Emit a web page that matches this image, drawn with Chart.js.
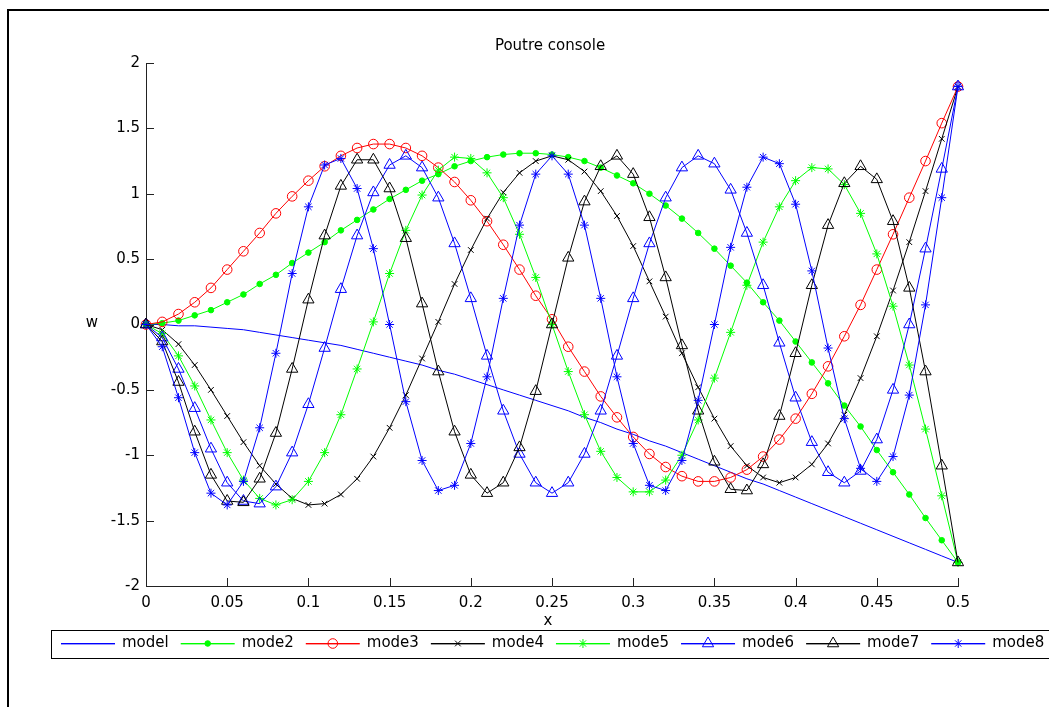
<!DOCTYPE html>
<html>
<head>
<meta charset="utf-8">
<title>Poutre console</title>
<script src="https://cdn.jsdelivr.net/npm/chart.js"></script>
<style>
  html, body { margin: 0; padding: 0; background: #fff; }
  canvas { display: block; }
</style>
</head>
<body>
<canvas id="myChart" width="1049" height="707"></canvas>
<script>
// abscisse le long de la poutre
var xs = [0, 0.01, 0.02, 0.03, 0.04, 0.05, 0.06, 0.07, 0.08, 0.09, 0.1, 0.11, 0.12, 0.13, 0.14, 0.15, 0.16, 0.17, 0.18, 0.19, 0.2,
  0.21, 0.22, 0.23, 0.24, 0.25, 0.26, 0.27, 0.28, 0.29, 0.3, 0.31, 0.32, 0.33, 0.34, 0.35, 0.36, 0.37, 0.38, 0.39, 0.4,
  0.41, 0.42, 0.43, 0.44, 0.45, 0.46, 0.47, 0.48, 0.49, 0.5];

// deformees modales w(x)
var mode1 = [0, 0, -0.01, -0.01, -0.02, -0.03, -0.04, -0.06, -0.08, -0.10, -0.12, -0.14, -0.16, -0.19, -0.22, -0.25, -0.28, -0.31, -0.35, -0.38, -0.42,
  -0.46, -0.50, -0.54, -0.58, -0.62, -0.66, -0.71, -0.75, -0.80, -0.84, -0.89, -0.93, -0.98, -1.03, -1.08, -1.13, -1.18, -1.22, -1.27, -1.32,
  -1.37, -1.42, -1.47, -1.52, -1.57, -1.62, -1.67, -1.72, -1.77, -1.82];
var mode2 = [0, 0.01, 0.03, 0.07, 0.11, 0.17, 0.23, 0.31, 0.38, 0.47, 0.55, 0.63, 0.72, 0.80, 0.88, 0.96, 1.03, 1.10, 1.15, 1.21, 1.25,
  1.28, 1.30, 1.31, 1.31, 1.30, 1.28, 1.25, 1.20, 1.14, 1.08, 1.00, 0.91, 0.81, 0.70, 0.58, 0.45, 0.32, 0.17, 0.03, -0.13,
  -0.29, -0.45, -0.62, -0.78, -0.96, -1.13, -1.30, -1.48, -1.65, -1.82];
var mode3 = [0, 0.02, 0.08, 0.17, 0.28, 0.42, 0.56, 0.70, 0.85, 0.98, 1.10, 1.21, 1.29, 1.35, 1.38, 1.38, 1.35, 1.29, 1.20, 1.09, 0.95,
  0.79, 0.61, 0.42, 0.22, 0.04, -0.17, -0.36, -0.55, -0.71, -0.86, -0.99, -1.09, -1.16, -1.20, -1.20, -1.17, -1.11, -1.01, -0.88, -0.72,
  -0.53, -0.32, -0.09, 0.15, 0.42, 0.69, 0.97, 1.25, 1.54, 1.82];
var mode4 = [0, -0.04, -0.15, -0.31, -0.50, -0.70, -0.90, -1.08, -1.22, -1.33, -1.38, -1.37, -1.30, -1.18, -1.01, -0.79, -0.54, -0.26, 0.02, 0.31, 0.57,
  0.81, 1.01, 1.16, 1.25, 1.29, 1.26, 1.17, 1.02, 0.83, 0.60, 0.33, 0.06, -0.22, -0.48, -0.72, -0.93, -1.08, -1.17, -1.21, -1.17,
  -1.07, -0.91, -0.69, -0.41, -0.09, 0.26, 0.63, 1.02, 1.42, 1.82];
var mode5 = [0, -0.07, -0.24, -0.47, -0.73, -0.98, -1.19, -1.33, -1.38, -1.34, -1.20, -0.98, -0.69, -0.34, 0.02, 0.39, 0.72, 0.99, 1.18, 1.28, 1.27,
  1.16, 0.97, 0.69, 0.36, 0.00, -0.36, -0.69, -0.97, -1.17, -1.28, -1.28, -1.19, -1.00, -0.73, -0.41, -0.06, 0.30, 0.63, 0.90, 1.10,
  1.20, 1.19, 1.07, 0.85, 0.54, 0.14, -0.31, -0.80, -1.31, -1.82];
var mode6 = [0, -0.10, -0.34, -0.64, -0.95, -1.21, -1.35, -1.37, -1.24, -0.98, -0.61, -0.18, 0.27, 0.68, 1.01, 1.22, 1.29, 1.20, 0.97, 0.62, 0.20,
  -0.24, -0.66, -0.99, -1.21, -1.29, -1.21, -0.99, -0.66, -0.24, 0.20, 0.62, 0.97, 1.20, 1.29, 1.23, 1.03, 0.70, 0.30, -0.14, -0.56,
  -0.90, -1.13, -1.21, -1.12, -0.88, -0.50, 0.00, 0.58, 1.19, 1.82];
var mode7 = [0, -0.13, -0.44, -0.82, -1.15, -1.35, -1.36, -1.18, -0.83, -0.34, 0.19, 0.68, 1.06, 1.26, 1.26, 1.04, 0.66, 0.16, -0.36, -0.82, -1.15,
  -1.29, -1.21, -0.94, -0.51, 0.00, 0.51, 0.94, 1.21, 1.29, 1.15, 0.82, 0.36, -0.16, -0.66, -1.05, -1.26, -1.27, -1.07, -0.70, -0.22,
  0.30, 0.76, 1.08, 1.21, 1.11, 0.79, 0.28, -0.36, -1.08, -1.82];
var mode8 = [0, -0.17, -0.56, -0.98, -1.29, -1.38, -1.20, -0.79, -0.22, 0.39, 0.90, 1.22, 1.27, 1.04, 0.58, 0.00, -0.59, -1.04, -1.27, -1.23, -0.91,
  -0.40, 0.20, 0.76, 1.15, 1.29, 1.15, 0.76, 0.20, -0.40, -0.91, -1.23, -1.27, -1.04, -0.58, 0.00, 0.59, 1.05, 1.28, 1.23, 0.92,
  0.41, -0.18, -0.72, -1.10, -1.20, -1.01, -0.54, 0.15, 0.97, 1.82];

var labels = ['model', 'mode2', 'mode3', 'mode4', 'mode5', 'mode6', 'mode7', 'mode8'];
var xTicks = [0, 0.05, 0.1, 0.15, 0.2, 0.25, 0.3, 0.35, 0.4, 0.45, 0.5];
var yTicks = [-2, -1.5, -1, -0.5, 0, 0.5, 1, 1.5, 2];

var BLUE = '#0000ff', GREEN = '#00ff00', RED = '#ff0000', BLACK = '#000000';

// style de trace de chaque courbe (couleur, marqueur)
var styles = [
  { color: BLUE,  pointStyle: 'circle',   radius: 0,   fill: false },
  { color: GREEN, pointStyle: 'circle',   radius: 2.8, fill: true },
  { color: RED,   pointStyle: 'circle',   radius: 4.8, fill: false },
  { color: BLACK, pointStyle: 'crossRot', radius: 4,   fill: false },
  { color: GREEN, pointStyle: 'star',     radius: 4.5, fill: false },
  { color: BLUE,  pointStyle: 'triangle', radius: 6.5, fill: false },
  { color: BLACK, pointStyle: 'triangle', radius: 6.5, fill: false },
  { color: BLUE,  pointStyle: 'star',     radius: 4.5, fill: false }
];

var modes = [mode1, mode2, mode3, mode4, mode5, mode6, mode7, mode8];

var datasets = modes.map(function (w, k) {
  var st = styles[k];
  return {
    label: labels[k],
    data: xs.map(function (x, i) { return { x: x, y: w[i] }; }),
    borderColor: st.color,
    backgroundColor: 'transparent',
    borderWidth: 1,
    tension: 0,
    pointStyle: st.pointStyle,
    pointRadius: st.radius,
    pointBorderColor: st.color,
    pointBackgroundColor: st.fill ? st.color : 'transparent',
    pointBorderWidth: 1,
    clip: false,
    order: 8 - k
  };
});

Chart.defaults.font.family = "'DejaVu Sans', sans-serif";
Chart.defaults.font.size = 15;
Chart.defaults.color = '#000';

function tickText(v) {
  return String(Math.round(v * 100) / 100);
}

function markerAt(ctx, st, x, y) {
  if (!st.radius) return;
  ctx.save();
  ctx.fillStyle = st.fill ? st.color : 'rgba(0,0,0,0)';
  ctx.strokeStyle = st.color;
  ctx.lineWidth = 1;
  Chart.helpers.drawPoint(ctx, { pointStyle: st.pointStyle, radius: st.radius, rotation: 0, borderWidth: 1 }, x, y);
  ctx.restore();
}

// titre, labels d'axes, graduations, legende et cadre
var decor = {
  id: 'decor',
  afterDraw: function (chart) {
    var ctx = chart.ctx, area = chart.chartArea;
    var sx = chart.scales.x, sy = chart.scales.y;
    ctx.save();

    ctx.strokeStyle = '#222';
    ctx.lineWidth = 1;
    ctx.beginPath();
    xTicks.forEach(function (v) {
      var px = Math.round(sx.getPixelForValue(v)) + 0.5;
      ctx.moveTo(px, area.bottom);
      ctx.lineTo(px, area.bottom - 8);
    });
    yTicks.forEach(function (v) {
      var py = Math.round(sy.getPixelForValue(v)) + 0.5;
      ctx.moveTo(area.left, py);
      ctx.lineTo(area.left + 8, py);
    });
    ctx.stroke();

    ctx.fillStyle = '#000';
    ctx.font = "15px 'DejaVu Sans'";
    ctx.textAlign = 'center';
    ctx.textBaseline = 'middle';
    ctx.fillText('Poutre console', 550, 46);
    ctx.fillText('x', 548, 621);
    ctx.fillText('w', 92, 323);

    // legende horizontale
    ctx.strokeStyle = '#000';
    ctx.lineWidth = 1;
    ctx.strokeRect(51.5, 630.5, 1100, 28);
    var lx = 61, ly = 643;
    ctx.textAlign = 'left';
    for (var k = 0; k < styles.length; k++) {
      var st = styles[k];
      ctx.fillStyle = st.color;
      ctx.fillRect(lx, ly, 54, 1.4);
      markerAt(ctx, st, lx + 27, ly + 0.5);
      ctx.fillStyle = '#000';
      ctx.fillText(labels[k], lx + 61, ly + 0.5);
      lx += 61 + ctx.measureText(labels[k]).width + 12;
    }

    // cadre de la figure
    ctx.strokeStyle = '#000';
    ctx.lineWidth = 2;
    ctx.strokeRect(8, 10, 1200, 900);
    ctx.restore();
  }
};

var ctx = document.getElementById('myChart').getContext('2d');
var myChart = new Chart(ctx, {
  type: 'line',
  data: { datasets: datasets },
  options: {
    responsive: false,
    animation: false,
    devicePixelRatio: 1,
    layout: { padding: { left: 0, top: 63, right: 91, bottom: 81 } },
    plugins: {
      legend: { display: false },
      title: { display: false },
      tooltip: { enabled: false }
    },
    scales: {
      x: {
        type: 'linear',
        min: 0,
        max: 0.5,
        grid: { display: false, drawTicks: false },
        border: { display: true, color: '#222' },
        ticks: { stepSize: 0.05, padding: 8, maxRotation: 0, autoSkip: false, callback: tickText },
        afterFit: function (s) { s.height = 40; }
      },
      y: {
        type: 'linear',
        min: -2,
        max: 2,
        grid: { display: false, drawTicks: false },
        border: { display: true, color: '#222' },
        ticks: { stepSize: 0.5, padding: 6, callback: tickText },
        afterFit: function (s) { s.width = 146; }
      }
    }
  },
  plugins: [decor]
});
</script>
</body>
</html>
